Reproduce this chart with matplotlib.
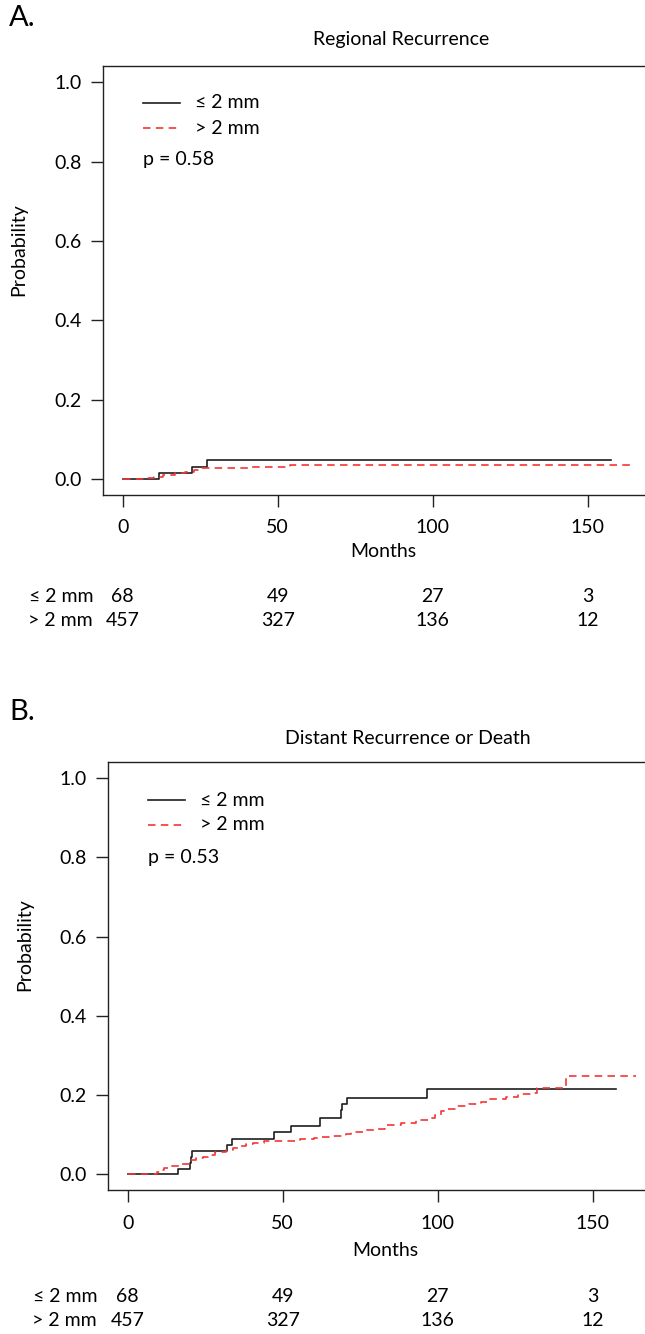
import matplotlib
matplotlib.use('Agg')
import matplotlib.pyplot as plt
from matplotlib.transforms import blended_transform_factory

plt.rcParams['font.family'] = ['Lato', 'DejaVu Sans']

# ---------------- data ----------------
month_ticks = [0, 50, 100, 150]
prob_ticks = [0.0, 0.2, 0.4, 0.6, 0.8, 1.0]
groups = ['≤ 2 mm', '> 2 mm']

# Panel A: Regional Recurrence
A_le_t = [0, 11.6, 22.5, 27.2, 157.6]
A_le_p = [0, 0.015, 0.030, 0.047, 0.047]
A_gt_t = [0, 8, 10, 13, 17, 20, 23, 25, 41, 54, 165.2]
A_gt_p = [0, 0.002, 0.006, 0.010, 0.014, 0.018, 0.022, 0.028, 0.031, 0.0345, 0.0345]
A_risk_le = [68, 49, 27, 3]
A_risk_gt = [457, 327, 136, 12]
A_p = 'p = 0.58'

# Panel B: Distant Recurrence or Death
B_le_t = [0, 16.2, 20.0, 20.4, 20.9, 32.0, 33.7, 47.3, 52.6, 61.9, 68.8, 69.2, 70.6, 96.6, 157.6]
B_le_p = [0, 0.0147, 0.029, 0.044, 0.059, 0.075, 0.0895, 0.107, 0.122, 0.142, 0.1615, 0.1766,
          0.192, 0.215, 0.215]
B_gt_t = [0, 9.5, 10.5, 11.7, 14, 16.7, 20, 22, 24.2, 26, 28, 31.8, 34, 36, 38, 40.4, 44, 48,
          55.5, 60, 62, 66, 70.5, 72, 76, 80, 83, 88, 93, 97.5, 99, 101, 103, 106, 110, 114,
          116, 122, 126, 130, 132, 141.3, 164]
B_gt_p = [0, 0.005, 0.012, 0.017, 0.022, 0.027, 0.035, 0.040, 0.045, 0.050, 0.056, 0.062,
          0.067, 0.072, 0.076, 0.080, 0.083, 0.085, 0.089, 0.092, 0.094, 0.098, 0.101, 0.108,
          0.111, 0.114, 0.125, 0.130, 0.136, 0.142, 0.149, 0.160, 0.166, 0.172, 0.177, 0.182,
          0.190, 0.195, 0.203, 0.206, 0.218, 0.249, 0.249]
B_risk_le = [68, 49, 27, 3]
B_risk_gt = [457, 327, 136, 12]
B_p = 'p = 0.53'

# ---------------- layout ----------------
W, H = 645, 1334
fig = plt.figure(figsize=(W / 100, H / 100), dpi=100)

BLACK = '#1e1e1e'
RED = '#f53535'
FS = 14


def rect(left, top, right, bottom):
    return [left / W, 1 - bottom / H, (right - left) / W, (bottom - top) / H]


def fx(x):
    return x / W


def fy(y):
    return 1 - y / H


def make_panel(box, xlim, le_t, le_p, gt_t, gt_p, risk_le, risk_gt, ptxt,
               letter, letter_xy, title, title_xy, ylab_xy, xlab_xy,
               leg_x, leg_y, p_y, risk_y, risk_lab_x):
    ax = fig.add_axes(rect(*box))
    ax.step(le_t, le_p, where='post', color=BLACK, lw=1.2)
    ax.step(gt_t, gt_p, where='post', color=RED, lw=1.2, dashes=(4.5, 3.2))
    ax.set_xlim(*xlim)
    ax.set_ylim(-0.04, 1.04)
    ax.set_xticks(month_ticks)
    ax.set_xticklabels([str(m) for m in month_ticks])
    ax.set_yticks(prob_ticks)
    ax.set_yticklabels([f'{v:.1f}' for v in prob_ticks])
    ax.tick_params(axis='both', direction='out', length=8.6, width=1.0,
                   labelsize=FS, color='#222222')
    ax.tick_params(axis='x', pad=9)
    ax.tick_params(axis='y', pad=7)
    for s in ax.spines.values():
        s.set_linewidth(1.0)
        s.set_color('#222222')
    ax.spines['right'].set_visible(False)

    fig.text(fx(letter_xy[0]), fy(letter_xy[1]), letter, fontsize=21,
             ha='left', va='center')
    fig.text(fx(title_xy[0]), fy(title_xy[1]), title, fontsize=FS,
             ha='center', va='center')
    fig.text(fx(ylab_xy[0]), fy(ylab_xy[1]), 'Probability', fontsize=FS,
             ha='center', va='center', rotation=90)
    fig.text(fx(xlab_xy[0]), fy(xlab_xy[1]), 'Months', fontsize=FS,
             ha='center', va='center')

    # legend
    fig.add_artist(plt.Line2D([fx(leg_x), fx(leg_x + 37)], [fy(leg_y), fy(leg_y)],
                              color=BLACK, lw=1.2))
    fig.add_artist(plt.Line2D([fx(leg_x), fx(leg_x + 37)], [fy(leg_y + 25), fy(leg_y + 25)],
                              color=RED, lw=1.2, dashes=(4.5, 3.2)))
    fig.text(fx(leg_x + 52), fy(leg_y), groups[0], fontsize=FS, ha='left', va='center')
    fig.text(fx(leg_x + 52), fy(leg_y + 25), groups[1], fontsize=FS, ha='left', va='center')
    fig.text(fx(leg_x), fy(p_y), ptxt, fontsize=FS, ha='left', va='center')

    # risk table
    tr = blended_transform_factory(ax.transData, fig.transFigure)
    for row, (lab, vals) in enumerate(zip(groups, [risk_le, risk_gt])):
        yy = fy(risk_y + 25 * row)
        fig.text(fx(risk_lab_x), yy, lab, fontsize=FS, ha='right', va='center')
        for m, v in zip(month_ticks, vals):
            ax.text(m, yy, str(v), transform=tr, fontsize=FS, ha='center',
                    va='center', clip_on=False)
    return ax


make_panel((103, 66.4, 650, 494.9), (-6.35, -6.35 + (650 - 103) / 3.1),
           A_le_t, A_le_p, A_gt_t, A_gt_p, A_risk_le, A_risk_gt, A_p,
           'A.', (9, 18), 'Regional Recurrence', (401, 40), (19, 250), (383, 552),
           143, 103, 160, 596, 93)

make_panel((108.3, 762.2, 650, 1190.2), (-6.26, -6.26 + (650 - 108.3) / 3.1),
           B_le_t, B_le_p, B_gt_t, B_gt_p, B_risk_le, B_risk_gt, B_p,
           'B.', (9, 712), 'Distant Recurrence or Death', (408, 738), (25, 945), (385, 1250),
           148, 800, 858, 1296, 97)

fig.savefig('out.png', dpi=100)
